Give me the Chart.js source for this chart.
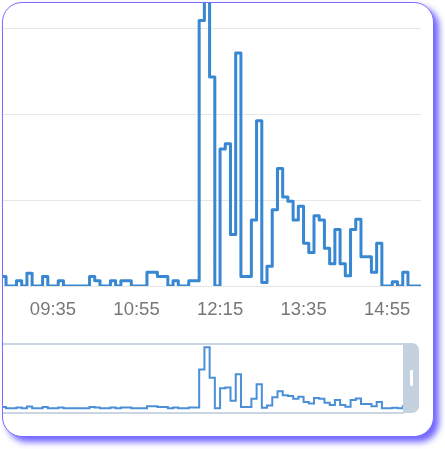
<!DOCTYPE html>
<html>
<head>
<meta charset="utf-8">
<script src="https://cdn.jsdelivr.net/npm/chart.js@4.4.1/dist/chart.umd.min.js"></script>
<style>
  html, body { margin: 0; padding: 0; background: #ffffff; }
  body { width: 445px; height: 449px; position: relative; overflow: hidden; }
  #card {
    position: absolute; left: 2px; top: 2px; width: 430px; height: 433px;
    border: 1px solid #7a6dff; border-radius: 20px; overflow: hidden;
    background: #ffffff;
    box-shadow: 5px 5px 6px rgba(98, 84, 255, 0.9);
  }
  #stage { position: absolute; left: -3px; top: -3px; width: 445px; height: 449px; }
  #mainCanvas { position: absolute; left: 0; top: 0; }
  #navCanvas { position: absolute; left: 0; top: 330px; }
  .navline { position: absolute; left: 0; width: 404px; height: 2px; background: #ccd6e2; }
  #handle { position: absolute; left: 403px; top: 343px; width: 16px; height: 70px; background: #c4d1df; border-radius: 0 7px 7px 0; }
  #grip { position: absolute; left: 6.5px; top: 27px; width: 3px; height: 16px; background: #ffffff; border-radius: 1px; }
</style>
</head>
<body>
<div id="card">
  <div id="stage">
    <canvas id="mainCanvas" width="445" height="330"></canvas>
    <div class="navline" style="top:343px"></div>
    <div class="navline" style="top:411.5px"></div>
    <canvas id="navCanvas" width="445" height="95"></canvas>
    <div id="handle"><div id="grip"></div></div>
  </div>
</div>
<script>
// ---- data ----
const times = [
  "08:45","08:50","08:55","09:00","09:05","09:10","09:15","09:20","09:25","09:30",
  "09:35","09:40","09:45","09:50","09:55","10:00","10:05","10:10","10:15","10:20",
  "10:25","10:30","10:35","10:40","10:45","10:50","10:55","11:00","11:05","11:10",
  "11:15","11:20","11:25","11:30","11:35","11:40","11:45","11:50","11:55","12:00",
  "12:05","12:10","12:15","12:20","12:25","12:30","12:35","12:40","12:45","12:50",
  "12:55","13:00","13:05","13:10","13:15","13:20","13:25","13:30","13:35","13:40",
  "13:45","13:50","13:55","14:00","14:05","14:10","14:15","14:20","14:25","14:30",
  "14:35","14:40","14:45","14:50","14:55","15:00","15:05","15:10","15:15","15:20",
  "15:25","15:30"
];
const values = [
  0.11, 0, 0, 0.06, 0, 0.15, 0, 0, 0.11, 0,
  0, 0.06, 0, 0, 0, 0, 0, 0.11, 0.06, 0,
  0, 0.06, 0, 0.06, 0.06, 0, 0, 0, 0.16, 0.16,
  0.11, 0.11, 0, 0.06, 0, 0, 0.06, 0.06, 3.1, 4.88,
  2.44, 0, 1.6, 1.66, 0.6, 2.72, 0.11, 0.11, 0.77, 1.93,
  0.04, 0.23, 0.89, 1.37, 1.04, 0.99, 0.77, 0.93, 0.5, 0.39,
  0.82, 0.77, 0.44, 0.26, 0.66, 0.26, 0.12, 0.66, 0.78, 0.34,
  0.34, 0.16, 0.5, 0, 0, 0.05, 0, 0.16, 0, 0,
  0, 0
];
const tickLabels = ["09:35", "10:55", "12:15", "13:35", "14:55"];
const yGridValues = [0, 1, 2, 3];

// ---- helpers ----
function toMin(t) { const p = t.split(":"); return (+p[0]) * 60 + (+p[1]); }
function fmt(m) { const h = Math.floor(m / 60), mm = Math.round(m % 60); return String(h).padStart(2, "0") + ":" + String(mm).padStart(2, "0"); }
const points = times.map((t, i) => ({ x: toMin(t), y: values[i] }));

const LINE = "#3887d2";
const X_MIN = 527.1;

new Chart(document.getElementById("mainCanvas"), {
  type: "line",
  data: { datasets: [{ data: points, stepped: true, borderColor: LINE, borderWidth: 3, borderJoinStyle: "round", pointRadius: 0, fill: false }] },
  options: {
    responsive: false, animation: false, events: [],
    layout: { padding: { left: 3, right: 24, top: 0, bottom: 0 } },
    plugins: { legend: { display: false }, tooltip: { enabled: false } },
    scales: {
      x: {
        type: "linear", min: X_MIN, max: 927.5,
        grid: { display: false, drawTicks: false }, border: { display: false },
        afterBuildTicks: (s) => { s.ticks = tickLabels.map(t => ({ value: toMin(t) })); },
        afterFit: (s) => { s.height = 44; },
        ticks: { autoSkip: false, maxRotation: 0, padding: 13, color: "#777777",
                 font: { family: "'Liberation Sans', Arial, sans-serif", size: 18.5 },
                 callback: (v) => fmt(v) }
      },
      y: {
        type: "linear", min: 0, max: 3.338,
        afterBuildTicks: (s) => { s.ticks = yGridValues.map(v => ({ value: v })); },
        afterFit: (s) => { s.width = 0; },
        ticks: { display: false }, border: { display: false },
        grid: { color: "#e6e6e6", lineWidth: 1, drawTicks: false }
      }
    }
  }
});

new Chart(document.getElementById("navCanvas"), {
  type: "line",
  data: { datasets: [{ data: points, stepped: true, borderColor: "#4a8fd8", borderWidth: 2, pointRadius: 0, fill: false }] },
  options: {
    responsive: false, animation: false, events: [],
    layout: { padding: { left: 3, right: 42, top: 14, bottom: 12.3 } },
    plugins: { legend: { display: false }, tooltip: { enabled: false } },
    scales: {
      x: { type: "linear", min: X_MIN, max: 910.2, display: false },
      y: { type: "linear", min: -0.35, max: 5.14, display: false }
    }
  }
});
</script>
</body>
</html>
